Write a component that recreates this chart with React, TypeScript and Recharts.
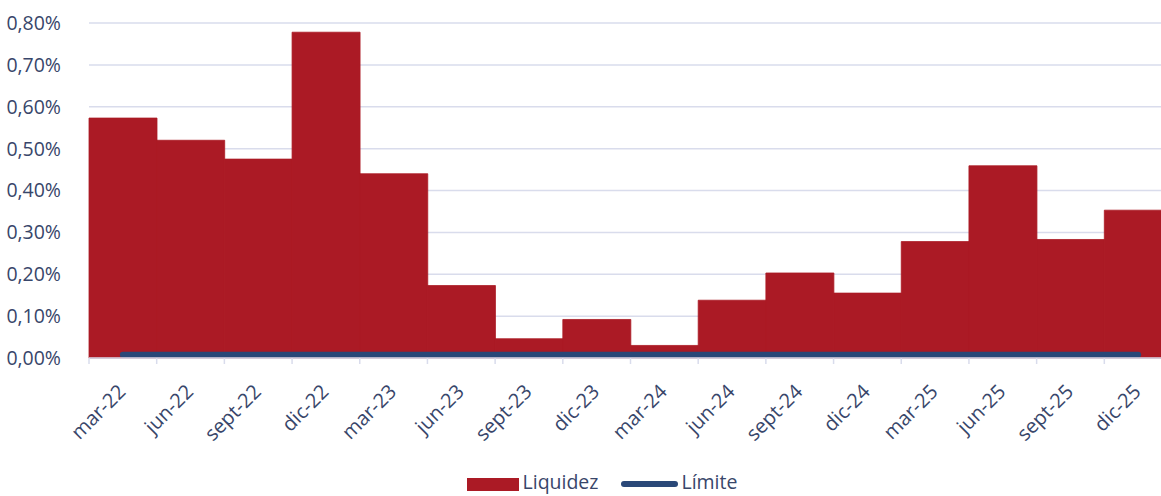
import React from 'react';
import { ComposedChart, Bar, Line, XAxis, YAxis, CartesianGrid, Legend } from 'recharts';

const categories = ['mar-22','jun-22','sept-22','dic-22','mar-23','jun-23','sept-23','dic-23','mar-24','jun-24','sept-24','dic-24','mar-25','jun-25','sept-25','dic-25'];
const liquidez = [0.573,0.520,0.475,0.778,0.440,0.173,0.046,0.092,0.030,0.138,0.203,0.155,0.278,0.459,0.283,0.353];
const limite = [0.008,0.008,0.008,0.008,0.008,0.008,0.008,0.008,0.008,0.008,0.008,0.008,0.008,0.008,0.008,0.008];
const yTicks = [0,0.1,0.2,0.3,0.4,0.5,0.6,0.7,0.8];

const data = categories.map((c, i) => ({ cat: c, liquidez: liquidez[i], limite: limite[i] }));

const W = 1200;
const H = 496;
const M = { top: 23, right: 28, left: 0, bottom: 0 };
const Y_W = 89;
const BW = (W - M.left - M.right - Y_W) / categories.length;

const TXT = '#38466a';
const RED = '#ab1a25';
const BLUE = '#2a4878';
const GRID = '#d9dcec';
const FONT = '"Open Sans", "Noto Sans", sans-serif';

const fmt = (v: number) => v.toFixed(2).replace('.', ',') + '%';

const XTick = (props: any) => {
  const { x, y, payload } = props;
  return (
    <g>
      <line x1={x - BW / 2} x2={x - BW / 2} y1={y - 8} y2={y - 2} stroke={GRID} strokeWidth={1.5} />
      <text transform={`translate(${x + 4},${y + 27}) rotate(-45)`} textAnchor="end" fill={TXT} fontSize={20} fontFamily={FONT}>
        {payload.value}
      </text>
    </g>
  );
};

const LegendContent = () => (
  <div style={{ display: 'flex', justifyContent: 'center', alignItems: 'center', fontFamily: FONT, fontSize: 19.5, lineHeight: '22px', color: TXT, paddingTop: 23, paddingLeft: 32 }}>
    <span style={{ display: 'inline-block', width: 52, height: 13, background: RED, marginRight: 4, marginTop: 4 }} />
    <span style={{ marginRight: 23 }}>Liquidez</span>
    <span style={{ display: 'inline-block', width: 57, height: 6, borderRadius: 3, background: BLUE, marginRight: 3, marginTop: 4 }} />
    <span>Límite</span>
  </div>
);

export default function App() {
  return (
    <div style={{ width: 1161, height: 496, overflow: 'hidden', background: '#fff' }}>
      <style>{'body{margin:0}'}</style>
      <ComposedChart width={W} height={H} data={data} margin={M} barCategoryGap={0}>
        <CartesianGrid vertical={false} stroke={GRID} strokeWidth={1.5} />
        <XAxis dataKey="cat" height={90} interval={0} tick={<XTick />} tickLine={false} axisLine={{ stroke: GRID, strokeWidth: 1.5 }} />
        <YAxis width={Y_W} domain={[0, 0.8]} ticks={yTicks} tickFormatter={fmt} axisLine={false} tickLine={false}
          tick={{ fill: TXT, fontSize: 19.5, fontFamily: FONT }} tickMargin={22} />
        <Bar dataKey="liquidez" name="Liquidez" fill={RED} stroke={RED} strokeWidth={0.8} isAnimationActive={false} />
        <Line dataKey="limite" name="Límite" stroke={BLUE} strokeWidth={6} strokeLinecap="round" dot={false} isAnimationActive={false} />
        <Legend verticalAlign="bottom" height={48} content={<LegendContent />} />
      </ComposedChart>
    </div>
  );
}
